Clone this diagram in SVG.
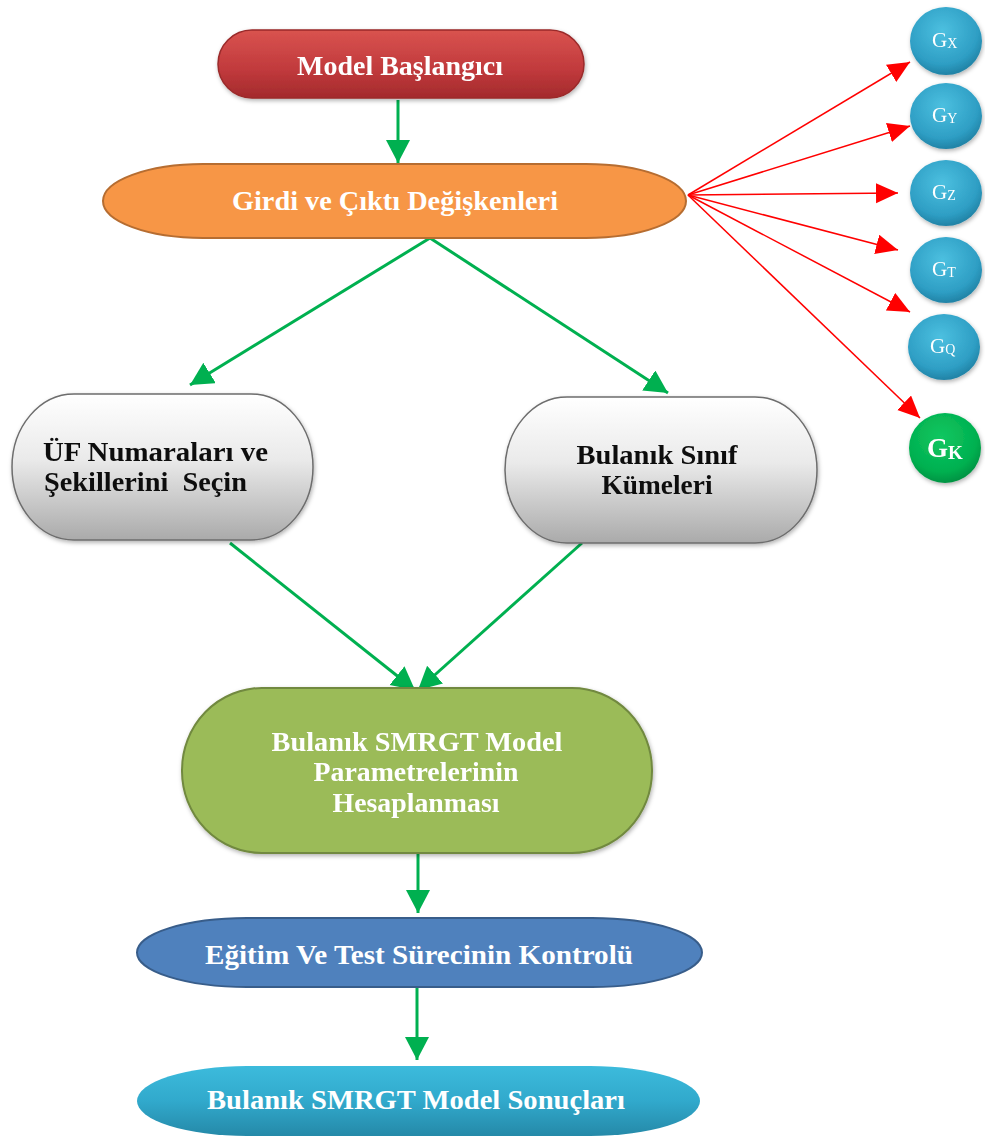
<svg xmlns="http://www.w3.org/2000/svg" width="985" height="1138" viewBox="0 0 985 1138">
<style>
.t{font-family:"Liberation Serif","Times New Roman",serif;font-weight:bold;font-size:27px;}
.w{fill:#ffffff;}
.k{fill:#111111;}
.g{stroke:#00b050;stroke-width:3;fill:none;}
.r{stroke:#ff0000;stroke-width:1.5;fill:none;}
.gl{font-family:"Liberation Serif","Times New Roman",serif;fill:#ffffff;}
</style>
<defs>
<marker id="ag" markerUnits="userSpaceOnUse" markerWidth="26" markerHeight="26" refX="23" refY="12" orient="auto"><path d="M0,0 L23,12 L0,24 Z" fill="#00b050"/></marker>
<marker id="ar" markerUnits="userSpaceOnUse" markerWidth="24" markerHeight="24" refX="22" refY="10" orient="auto"><path d="M0,0 L22,10 L0,20 Z" fill="#ff0000"/></marker>
<linearGradient id="gRed" x1="0" y1="0" x2="0" y2="1"><stop offset="0" stop-color="#d9534f"/><stop offset="0.6" stop-color="#c0393c"/><stop offset="1" stop-color="#a32a2c"/></linearGradient>
<linearGradient id="gGray" x1="0" y1="0" x2="0" y2="1"><stop offset="0" stop-color="#ffffff"/><stop offset="0.45" stop-color="#eaeaea"/><stop offset="1" stop-color="#aaaaaa"/></linearGradient>
<linearGradient id="gCyan" x1="0" y1="0" x2="0" y2="1"><stop offset="0" stop-color="#3cbbdc"/><stop offset="0.5" stop-color="#31a9cc"/><stop offset="1" stop-color="#2589a8"/></linearGradient>
<radialGradient id="gBall" cx="0.45" cy="0.35" r="0.7"><stop offset="0" stop-color="#4cc0e0"/><stop offset="0.7" stop-color="#2e9ec4"/><stop offset="1" stop-color="#1d7a9c"/></radialGradient>
<radialGradient id="gBallG" cx="0.45" cy="0.35" r="0.7"><stop offset="0" stop-color="#12c760"/><stop offset="0.7" stop-color="#00b050"/><stop offset="1" stop-color="#008a3e"/></radialGradient>
<filter id="sh" x="-10%" y="-10%" width="120%" height="130%"><feDropShadow dx="1" dy="2" stdDeviation="2" flood-color="#000" flood-opacity="0.3"/></filter>
</defs>

<g id="connectors">
<line class="g" x1="398" y1="100" x2="398" y2="163" marker-end="url(#ag)"/>
<line class="g" x1="430" y1="238" x2="190" y2="385" marker-end="url(#ag)"/>
<line class="g" x1="430" y1="238" x2="668" y2="393" marker-end="url(#ag)"/>
<line class="g" x1="230" y1="543" x2="415" y2="690" marker-end="url(#ag)"/>
<line class="g" x1="582" y1="543" x2="418" y2="690" marker-end="url(#ag)"/>
<line class="g" x1="418" y1="853" x2="418" y2="913" marker-end="url(#ag)"/>
<line class="g" x1="417" y1="988" x2="417" y2="1060" marker-end="url(#ag)"/>
<line class="r" x1="688" y1="195" x2="910" y2="62" marker-end="url(#ar)"/>
<line class="r" x1="688" y1="195" x2="910" y2="126" marker-end="url(#ar)"/>
<line class="r" x1="688" y1="195" x2="898" y2="193" marker-end="url(#ar)"/>
<line class="r" x1="688" y1="195" x2="898" y2="250" marker-end="url(#ar)"/>
<line class="r" x1="688" y1="195" x2="910" y2="312" marker-end="url(#ar)"/>
<line class="r" x1="688" y1="195" x2="920" y2="418" marker-end="url(#ar)"/>
</g>

<g id="n-start" filter="url(#sh)">
<rect x="218" y="30" width="366" height="68" rx="34" ry="34" fill="url(#gRed)" stroke="#9a2a2a" stroke-width="1.5"/>
<text class="t w" x="400" y="75" text-anchor="middle" textLength="206" lengthAdjust="spacingAndGlyphs">Model Başlangıcı</text>
</g>

<g id="n-vars">
<rect x="103" y="164" width="583" height="74" rx="100" ry="37" fill="#f79646" stroke="#b66d31" stroke-width="2"/>
<text class="t w" x="395" y="210" text-anchor="middle" textLength="326" lengthAdjust="spacingAndGlyphs">Girdi ve Çıktı Değişkenleri</text>
</g>

<g id="n-uf" filter="url(#sh)">
<rect x="12" y="394" width="301" height="146" rx="62" ry="73" fill="url(#gGray)" stroke="#6d6d6d" stroke-width="1.5"/>
<text class="t k" x="43" y="461" textLength="225" lengthAdjust="spacingAndGlyphs">ÜF Numaraları ve</text>
<text class="t k" x="44" y="491" textLength="203" lengthAdjust="spacingAndGlyphs" xml:space="preserve">Şekillerini  Seçin</text>
</g>

<g id="n-class" filter="url(#sh)">
<rect x="505" y="397" width="312" height="146" rx="62" ry="73" fill="url(#gGray)" stroke="#6d6d6d" stroke-width="1.5"/>
<text class="t k" x="657" y="464" text-anchor="middle" textLength="161" lengthAdjust="spacingAndGlyphs">Bulanık Sınıf</text>
<text class="t k" x="657" y="494" text-anchor="middle" textLength="111" lengthAdjust="spacingAndGlyphs">Kümeleri</text>
</g>

<g id="n-param" filter="url(#sh)">
<rect x="182" y="688" width="470" height="165" rx="80" ry="82" fill="#9bbb59" stroke="#71893f" stroke-width="2"/>
<text class="t w" x="417" y="751" text-anchor="middle" textLength="291" lengthAdjust="spacingAndGlyphs">Bulanık SMRGT Model</text>
<text class="t w" x="416" y="781" text-anchor="middle" textLength="205" lengthAdjust="spacingAndGlyphs">Parametrelerinin</text>
<text class="t w" x="416" y="812" text-anchor="middle" textLength="167" lengthAdjust="spacingAndGlyphs">Hesaplanması</text>
</g>

<g id="n-train">
<rect x="137" y="918" width="565" height="69" rx="110" ry="34.5" fill="#4f81bd" stroke="#385d8a" stroke-width="2"/>
<text class="t w" x="419" y="964" text-anchor="middle" textLength="428" lengthAdjust="spacingAndGlyphs">Eğitim Ve Test Sürecinin Kontrolü</text>
</g>

<g id="n-results">
<rect x="137" y="1066" width="563" height="70" rx="110" ry="35" fill="url(#gCyan)"/>
<text class="t w" x="416" y="1109" text-anchor="middle" textLength="418" lengthAdjust="spacingAndGlyphs">Bulanık SMRGT Model Sonuçları</text>
</g>

<g id="n-gx" filter="url(#sh)">
<ellipse cx="946" cy="41" rx="36" ry="34" fill="url(#gBall)"/>
<text class="gl" x="932" y="47" font-size="21">G<tspan font-size="14" dy="1">X</tspan></text>
</g>
<g id="n-gy" filter="url(#sh)">
<ellipse cx="946" cy="116" rx="36" ry="33" fill="url(#gBall)"/>
<text class="gl" x="932" y="122" font-size="21">G<tspan font-size="14" dy="1">Y</tspan></text>
</g>
<g id="n-gz" filter="url(#sh)">
<ellipse cx="946" cy="193" rx="36" ry="33" fill="url(#gBall)"/>
<text class="gl" x="932" y="199" font-size="21">G<tspan font-size="14" dy="1">Z</tspan></text>
</g>
<g id="n-gt" filter="url(#sh)">
<ellipse cx="946" cy="270" rx="36" ry="33" fill="url(#gBall)"/>
<text class="gl" x="932" y="276" font-size="21">G<tspan font-size="14" dy="1">T</tspan></text>
</g>
<g id="n-gq" filter="url(#sh)">
<ellipse cx="944" cy="347" rx="36" ry="33" fill="url(#gBall)"/>
<text class="gl" x="930" y="353" font-size="21">G<tspan font-size="14" dy="1">Q</tspan></text>
</g>
<g id="n-gk" filter="url(#sh)">
<ellipse cx="945" cy="448" rx="36" ry="35" fill="url(#gBallG)"/>
<text class="gl" x="927" y="457" font-size="27" font-weight="bold">G<tspan font-size="19" dy="2">K</tspan></text>
</g>
</svg>
